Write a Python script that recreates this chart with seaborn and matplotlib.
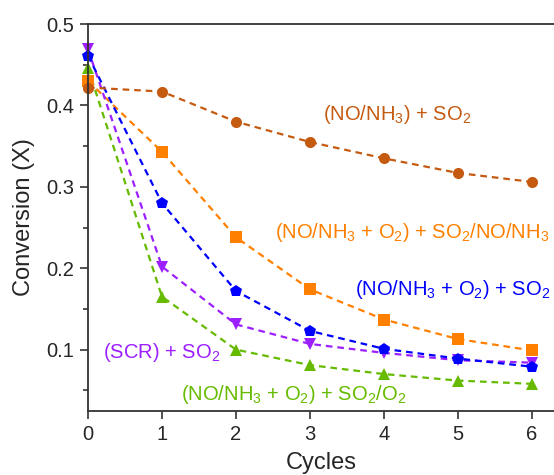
import numpy as np
import pandas as pd
import seaborn as sns
import matplotlib.pyplot as plt

cycles = [0, 1, 2, 3, 4, 5, 6]

no_nh3_so2 = [0.422, 0.417, 0.380, 0.355, 0.335, 0.317, 0.306]
o2_so2_no_nh3 = [0.430, 0.343, 0.238, 0.174, 0.137, 0.113, 0.099]
o2_so2 = [0.461, 0.280, 0.172, 0.123, 0.101, 0.089, 0.079]
scr_so2 = [0.469, 0.202, 0.131, 0.107, 0.096, 0.087, 0.084]
o2_so2_o2 = [0.446, 0.165, 0.100, 0.081, 0.070, 0.062, 0.058]

labels = [
    r'(NO/NH$_3$ + O$_2$) + SO$_2$/O$_2$',
    r'(NO/NH$_3$ + O$_2$) + SO$_2$/NO/NH$_3$',
    r'(SCR) + SO$_2$',
    r'(NO/NH$_3$ + O$_2$) + SO$_2$',
    r'(NO/NH$_3$) + SO$_2$',
]
series = [o2_so2_o2, o2_so2_no_nh3, scr_so2, o2_so2, no_nh3_so2]
colors = ['#66BB00', '#FF8000', '#9B1FFF', '#0000FF', '#C55A11']
markers = ['^', 's', 'v', 'p', 'o']
# where each label sits (data coords, centre)
label_pos = [(2.78, 0.0453), (4.38, 0.244), (1.0, 0.0968), (4.93, 0.174), (4.18, 0.3885)]

sns.set_style('ticks')
plt.rcParams['font.family'] = ['Liberation Sans', 'DejaVu Sans']
plt.rcParams['mathtext.fontset'] = 'custom'
plt.rcParams['mathtext.rm'] = 'Liberation Sans'
plt.rcParams['mathtext.it'] = 'Liberation Sans:italic'

fig = plt.figure(figsize=(5.54, 4.75), dpi=100)
ax = fig.add_axes([88 / 554, 1 - 410.7 / 475, 1 - 88 / 554, (410.7 - 24) / 475])

for lab, vals, c, m in zip(labels, series, colors, markers):
    df = pd.DataFrame({'Cycles': cycles, 'X': vals})
    sns.lineplot(data=df, x='Cycles', y='X', ax=ax, color=c, marker=m,
                 markersize=9 if m in 'p^v' else 8, markeredgewidth=0,
                 linestyle=(0, (3, 2.2)), linewidth=1.6, clip_on=False)

for lab, (tx, ty), c in zip(labels, label_pos, colors):
    ax.text(tx, ty, lab, color=c, fontsize=14.5, ha='center', va='center')

ax.set_xlim(0, 6.297)
ax.set_ylim(0.025, 0.5)
ax.set_xticks(cycles)
ax.set_yticks([0.1, 0.2, 0.3, 0.4, 0.5])
ax.set_yticks(np.arange(0.05, 0.5, 0.1), minor=True)
ax.tick_params(axis='both', which='major', direction='out', length=6, width=1.2,
               labelsize=14.5, color='#333333', pad=4)
ax.tick_params(axis='y', which='minor', direction='out', length=3.5, width=1.2,
               color='#333333')
for s in ['left', 'bottom', 'top']:
    ax.spines[s].set_linewidth(1.3)
    ax.spines[s].set_color('#333333')
ax.spines['right'].set_visible(False)

ax.set_xlabel('Cycles', fontsize=17, labelpad=6)
ax.set_ylabel('Conversion (X)', fontsize=17, labelpad=8)

fig.savefig('out.png', dpi=100)
